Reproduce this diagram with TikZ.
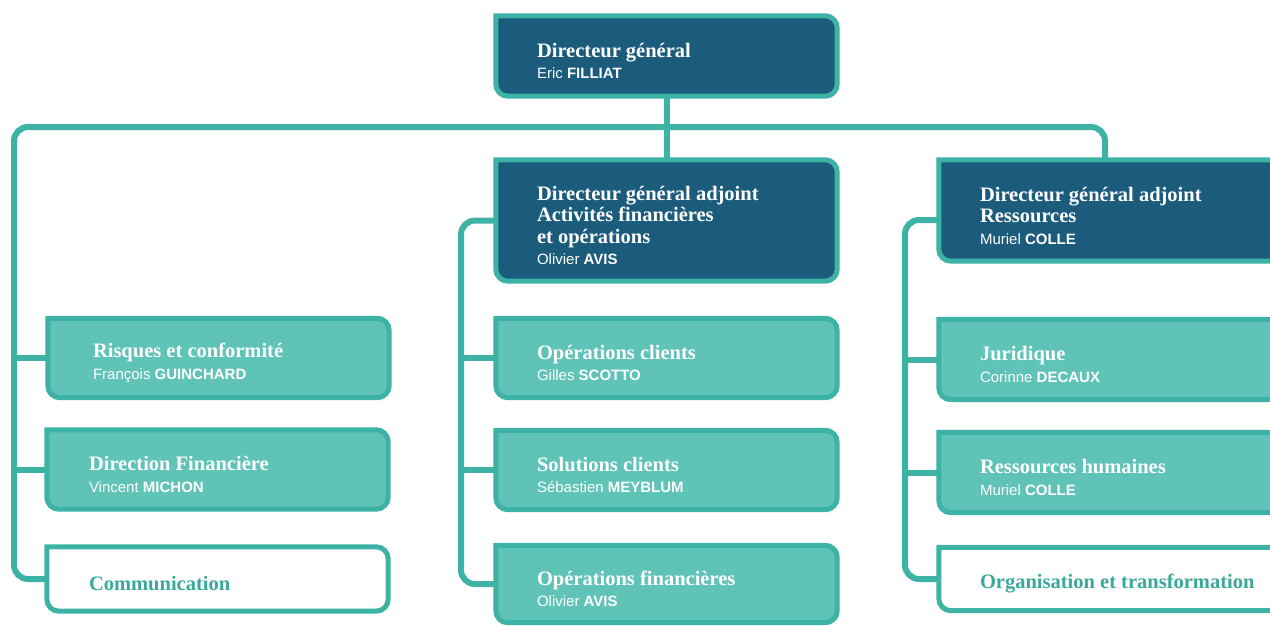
\documentclass[tikz,border=0pt]{standalone}
\usepackage{fontspec}
\setmainfont{Liberation Serif}
\newfontfamily\namefont{Liberation Sans}
\usetikzlibrary{calc}
\definecolor{tealB}{HTML}{3DB3A5}
\definecolor{tealF}{HTML}{5FC3B8}
\definecolor{navy}{HTML}{1B5B7C}
\definecolor{tealT}{HTML}{3AA99B}
\newcommand\persname[2]{{\namefont\fontsize{15}{21.5}\selectfont\mdseries #1 \textbf{#2}}}
\newcommand\drawbox[2]{\draw[outline, fill=#2] (#1.north west) -- (#1.north east) -- (#1.south east) -- (#1.south west) -- (#1.north west);}
\begin{document}
\begin{tikzpicture}[x=1pt,y=-1pt,
  shp/.style={rectangle, inner sep=0, minimum width=341, minimum height=#1},
  outline/.style={draw=tealB, line width=5, rounded corners=12, line cap=rect},
  conn/.style={draw=tealB, line width=6, rounded corners=14},
  tx/.style={anchor=west, inner sep=0, align=left, text=white, font=\fontsize{20.5}{21.5}\selectfont\bfseries, yshift=-5},
  txw/.style={tx, text=tealT, yshift=0}
]
\useasboundingbox (0,0) rectangle (1270,625);
\clip (0,0) rectangle (1270,625);
\fill[white] (0,0) rectangle (1270,625);

% box shapes
\node[shp=80]  (top)   at (666.5,56) {};
\node[shp=121] (dga1)  at (666.5,220.5) {};
\node[shp=101] (dga2)  at (1109.5,210.5) {};
\node[shp=79]  (risk)  at (218.5,358) {};
\node[shp=79]  (dfin)  at (217.5,469.5) {};
\node[shp=64]  (comm)  at (217.5,579) {};
\node[shp=79]  (opcl)  at (666.5,358) {};
\node[shp=79]  (solcl) at (666.5,470) {};
\node[shp=77]  (opfin) at (666.5,584) {};
\node[shp=80]  (jur)   at (1109.5,359.5) {};
\node[shp=80]  (rh)    at (1109.5,472.5) {};
\node[shp=63]  (org)   at (1109.5,579) {};

% connectors
\coordinate (LT) at (14,127);
\coordinate (RT) at (1105,127);
\coordinate (M) at (461,0);
\coordinate (R) at (905,220);
\draw[conn] (top.south) -- (dga1.north);
\draw[conn] (comm.west) -| (LT) -- (RT) -- (RT |- dga2.north);
\draw[conn] (risk.west) -- (risk.west -| LT);
\draw[conn] (dfin.west) -- (dfin.west -| LT);
\draw[conn] (dga1.west) -- (dga1.west -| M) |- (opfin.west);
\draw[conn] (opcl.west) -- (opcl.west -| M);
\draw[conn] (solcl.west) -- (solcl.west -| M);
\draw[conn] (dga2.west |- R) -- (R) |- (org.west);
\draw[conn] (jur.west) -- (jur.west -| R);
\draw[conn] (rh.west) -- (rh.west -| R);

% box outlines
\drawbox{top}{navy}
\drawbox{dga1}{navy}
\drawbox{dga2}{navy}
\drawbox{risk}{tealF}
\drawbox{dfin}{tealF}
\drawbox{comm}{white}
\drawbox{opcl}{tealF}
\drawbox{solcl}{tealF}
\drawbox{opfin}{tealF}
\drawbox{jur}{tealF}
\drawbox{rh}{tealF}
\drawbox{org}{white}

% texts
\node[tx] (top-t)   at ([xshift=41]top.west)   {Directeur général\\\persname{Eric}{FILLIAT}};
\node[tx] (dga1-t)  at ([xshift=41]dga1.west)  {Directeur général adjoint\\Activités financières\\et opérations\\\persname{Olivier}{AVIS}};
\node[tx] (dga2-t)  at ([xshift=41]dga2.west)  {Directeur général adjoint\\Ressources\\\persname{Muriel}{COLLE}};
\node[tx] (risk-t)  at ([xshift=45]risk.west)  {Risques et conformité\\\persname{François}{GUINCHARD}};
\node[tx] (dfin-t)  at ([xshift=42]dfin.west)  {Direction Financière\\\persname{Vincent}{MICHON}};
\node[txw] (comm-t) at ([xshift=42]comm.west)  {Communication};
\node[tx] (opcl-t)  at ([xshift=41]opcl.west)  {Opérations clients\\\persname{Gilles}{SCOTTO}};
\node[tx] (solcl-t) at ([xshift=41]solcl.west) {Solutions clients\\\persname{Sébastien}{MEYBLUM}};
\node[tx] (opfin-t) at ([xshift=41]opfin.west) {Opérations financières\\\persname{Olivier}{AVIS}};
\node[tx] (jur-t)   at ([xshift=41]jur.west)   {Juridique\\\persname{Corinne}{DECAUX}};
\node[tx] (rh-t)    at ([xshift=41]rh.west)    {Ressources humaines\\\persname{Muriel}{COLLE}};
\node[txw] (org-t)  at ([xshift=41]org.west)   {Organisation et transformation};
\end{tikzpicture}
\end{document}
